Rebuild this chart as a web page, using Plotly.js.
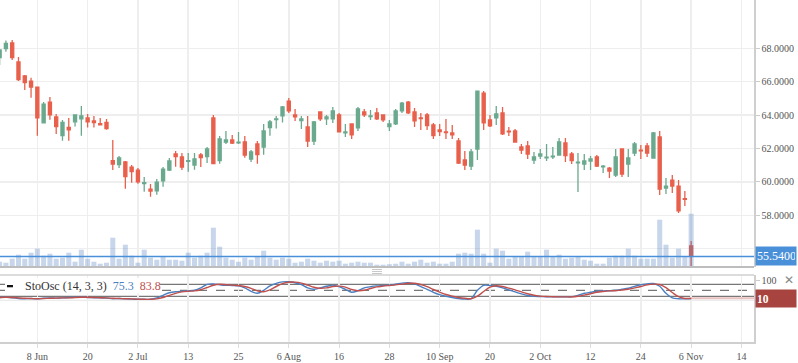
<!DOCTYPE html>
<html>
<head>
<meta charset="utf-8">
<script src="https://cdn.plot.ly/plotly-3.0.1.min.js"></script>
<style>html,body{margin:0;padding:0;background:#fff;}#chart{width:798px;height:363px;}</style>
</head>
<body>
<div id="chart"></div>
<script>
// ---- data (trading-day index based) ----
const open  = [67.44,67.98,68.32,67.18,66.34,66.04,65.68,63.54,64.78,63.89,62.77,63.27,63.60,63.78,63.83,63.65,63.49,63.57,61.27,61.03,61.19,60.89,60.71,59.90,59.57,59.47,60.07,60.71,61.67,61.49,61.23,61.01,61.61,61.51,63.83,61.27,62.39,62.51,62.34,62.39,61.37,62.27,62.09,63.25,63.73,63.96,64.84,64.01,63.67,63.29,62.45,64.19,63.78,63.78,64.01,62.93,63.47,63.23,64.19,63.91,64.13,64.01,63.31,63.47,64.25,64.78,64.19,63.83,64.01,63.41,63.11,62.99,62.93,62.45,61.31,60.95,61.97,65.32,63.71,63.83,64.13,63.04,63.05,62.09,62.15,61.31,61.55,61.44,61.50,61.61,62.33,61.67,61.14,61.07,61.25,61.49,60.90,60.83,60.41,61.97,61.07,61.73,61.90,62.15,61.43,62.69,59.63,60.11,59.75,58.99,56.16];
const high  = [67.95,68.46,68.50,67.48,66.40,66.24,65.70,64.78,65.08,64.07,63.71,63.83,64.05,64.54,64.07,63.95,63.83,63.77,62.51,61.55,61.25,61.01,60.83,60.29,59.87,60.17,60.89,61.43,61.85,61.73,61.73,61.73,61.73,62.09,64.01,62.75,63.05,62.81,62.99,62.75,61.91,62.45,63.47,63.71,63.95,64.55,65.02,64.37,63.95,63.95,63.65,64.21,64.01,64.49,64.13,63.47,63.49,64.49,64.37,64.31,64.43,64.03,63.71,64.37,64.78,64.84,64.43,64.13,64.13,63.53,63.47,63.77,63.41,62.63,61.85,61.97,65.46,65.44,64.01,64.55,64.49,63.29,63.17,62.27,62.45,61.79,61.97,62.27,62.09,62.63,62.63,61.79,61.73,61.67,61.55,61.61,61.01,60.89,61.97,61.99,61.97,62.39,62.21,62.33,62.99,63.05,60.23,60.41,60.11,59.45,56.46];
const low   = [67.00,67.80,67.30,66.04,65.50,65.04,62.77,63.50,63.72,62.87,62.47,62.47,63.31,62.77,63.25,63.25,63.37,63.13,60.71,60.83,59.59,59.95,59.89,59.41,59.11,59.23,59.71,60.65,60.91,60.71,60.61,60.73,60.89,61.13,61.07,61.09,62.27,62.27,62.27,61.45,61.19,61.09,61.63,62.77,63.19,63.55,64.13,63.65,63.17,62.09,62.21,63.65,63.41,63.53,62.97,62.69,62.57,63.05,63.89,63.71,63.71,63.59,63.05,63.41,64.13,64.07,63.29,63.11,63.11,62.57,62.75,62.57,62.57,61.07,60.71,60.71,61.31,63.11,63.29,63.41,62.81,62.75,62.37,61.67,61.37,61.07,61.37,61.25,61.37,61.59,61.19,61.07,59.40,60.71,60.71,60.89,60.53,60.23,60.29,60.29,60.29,61.55,61.37,61.49,61.41,59.21,59.28,59.34,58.14,58.56,54.80];
const close = [67.90,68.30,67.44,66.12,65.94,65.68,63.84,64.66,64.02,63.31,63.57,63.11,64.01,63.95,63.59,63.55,63.41,63.19,61.07,61.43,60.31,60.61,60.01,59.95,59.45,59.99,60.77,61.25,61.51,60.89,61.27,61.37,61.45,61.97,61.09,62.57,62.51,62.33,62.38,61.61,61.79,61.63,63.05,63.59,63.77,64.49,64.25,63.90,63.77,62.45,63.59,63.77,63.89,64.25,62.99,62.99,62.81,64.37,64.01,63.95,63.77,63.71,63.47,64.25,64.72,64.13,63.65,63.79,63.37,62.77,63.01,62.95,62.81,61.13,61.01,61.79,65.44,63.53,63.35,64.07,62.87,63.00,62.39,61.91,61.67,61.49,61.67,61.48,61.54,62.39,61.57,61.27,61.18,61.25,61.37,60.95,60.94,60.65,61.49,60.47,61.43,62.27,61.86,61.73,62.93,59.57,59.75,59.75,58.26,58.95,55.54];
const volume = [530,430,830,1230,830,1430,1830,1130,1330,830,930,1430,530,1730,830,530,330,430,2930,830,2230,1130,430,1730,930,730,1030,730,730,630,1430,930,1130,1430,3930,2030,930,730,530,930,730,1030,1630,930,730,930,830,430,530,830,630,430,630,530,630,330,430,530,430,430,230,230,280,330,530,330,530,730,430,530,330,330,530,1330,1430,1330,3730,1330,430,1830,1630,830,1030,1030,1530,1030,1030,1730,1030,1230,830,930,1030,730,630,330,330,930,1130,1130,1830,1130,830,830,830,4730,2230,930,1830,1030,5330];
const stochK = [14,16,12,9,8,9,7,10,12,11,12,14,15,16,14,13,12,11,8,9,7,6,5,5,5,12,25,38,43,45,47,50,62,80,82,78,75,74,72,62,45,35,50,72,85,92,93,88,78,62,55,62,70,76,68,55,40,48,62,68,72,74,76,80,86,88,82,68,55,40,28,20,14,9,6,8,50,75,74,70,62,52,42,32,24,20,19,18,17,17,17,18,25,35,40,45,47,48,50,55,60,70,78,82,84,70,35,12,8,7,8];
const stochD = [14,15,14,12,10,9,8,9,10,11,12,12,14,15,15,14,13,12,10,9,8,7,6,5,5,7,14,25,35,42,45,47,53,64,75,80,78,76,74,69,60,47,43,52,69,83,90,91,86,76,65,60,62,69,71,66,54,48,50,59,67,71,74,77,81,85,85,79,68,54,41,29,21,14,10,8,21,44,66,73,69,61,52,42,33,25,21,19,18,17,17,17,20,26,33,40,44,47,48,51,55,62,69,77,81,79,63,39,18,9,10];
const tickIndex = [6,14,22,30,38,46,54,62,70,78,86,94,102,110,118];
const tickLabels = ['8 Jun','20','2 Jul','13','25','6 Aug','16','28','10 Sep','20','2 Oct','12','24','6 Nov','14'];
const priceTicks = [56,58,60,62,64,66,68];
const priceTickText = ['', '58.0000', '60.0000', '62.0000', '64.0000', '66.0000', '68.0000'];
const stochLevels = [80,50,20];
const legendK = '75.3', legendD = '83.8';

const idx = close.map((_, i) => i);
const n = close.length;
const lastClose = close[n - 1];
const lastD = stochD[n - 1];

const UP = '#6aa98e', DOWN = '#e8604c';
const BLUE = '#4a90d9';
const KCOL = '#4a7fc1', DCOL = '#c0504d';
const FONT = 'Liberation Serif, Times New Roman, serif';
const XR = [0.06, 120.0];

const traces = [
  {
    type: 'candlestick', x: idx, open: open, high: high, low: low, close: close,
    xaxis: 'x', yaxis: 'y',
    increasing: {line: {color: UP, width: 1.3}, fillcolor: UP},
    decreasing: {line: {color: DOWN, width: 1.3}, fillcolor: DOWN},
    whiskerwidth: 0, hoverinfo: 'skip', showlegend: false
  },
  {
    type: 'bar', x: idx, y: volume, xaxis: 'x', yaxis: 'y3',
    marker: {color: 'rgba(70,120,190,0.3)', line: {width: 0}},
    hoverinfo: 'skip', showlegend: false
  },
  {
    type: 'scatter', mode: 'lines', x: idx, y: stochK, xaxis: 'x', yaxis: 'y2',
    line: {color: KCOL, width: 1.4, shape: 'spline', smoothing: 0.8},
    hoverinfo: 'skip', showlegend: false
  },
  {
    type: 'scatter', mode: 'lines', x: idx, y: stochD, xaxis: 'x', yaxis: 'y2',
    line: {color: DCOL, width: 1.4, shape: 'spline', smoothing: 0.8},
    hoverinfo: 'skip', showlegend: false
  }
];

const shapes = [];
stochLevels.forEach(v => {
  shapes.push({type: 'line', xref: 'paper', yref: 'y2', x0: 0, x1: 1, y0: v, y1: v,
    line: {color: '#555', width: 1, dash: v === 50 ? 'dash' : 'solid'}, layer: 'below'});
});
shapes.push({type: 'line', xref: 'paper', yref: 'y2', x0: 0, x1: 1, y0: 0, y1: 0,
  line: {color: '#e6e6e6', width: 1}, layer: 'below'});
// legend backdrop
shapes.push({type: 'rect', xref: 'paper', yref: 'paper', x0: 0.0066, x1: 0.2122, y0: 0.1418, y1: 0.1871,
  fillcolor: '#ffffff', line: {width: 0}, layer: 'above'});
// legend swatch
shapes.push({type: 'rect', xref: 'paper', yref: 'paper', x0: 0.0093, x1: 0.0172, y0: 0.1600, y1: 0.1667,
  fillcolor: '#111111', line: {width: 0}, layer: 'above'});
// last D extension
shapes.push({type: 'line', xref: 'x', yref: 'y2', x0: n - 1, x1: XR[1], y0: lastD, y1: lastD,
  line: {color: 'rgba(192,80,77,0.35)', width: 2}});
// panel separators
shapes.push({type: 'line', xref: 'paper', yref: 'paper', x0: 0, x1: 1, y0: 0.2193, y1: 0.2193,
  line: {color: '#bdbdbd', width: 2}});
shapes.push({type: 'line', xref: 'paper', yref: 'paper', x0: 0, x1: 1, y0: 0.1959, y1: 0.1959,
  line: {color: '#d0d0d0', width: 1.5}});
// splitter handle
[0.2120, 0.2062, 0.2003].forEach(yy => shapes.push({type: 'line', xref: 'paper', yref: 'paper',
  x0: 0.4934, x1: 0.5066, y0: yy, y1: yy, line: {color: '#c8c8c8', width: 1}}));
// last price line
shapes.push({type: 'line', xref: 'paper', yref: 'y', x0: 0, x1: 1, y0: lastClose, y1: lastClose,
  line: {color: BLUE, width: 1.5}});

const annotations = [
  {xref: 'paper', yref: 'paper', x: 0.0305, y: 0.1623, xanchor: 'left', yanchor: 'middle', showarrow: false,
   text: 'StoOsc (14, 3, 3)  <span style="color:' + KCOL + '">' + legendK + '</span>  <span style="color:' + DCOL + '">' + legendD + '</span>',
   font: {family: FONT, size: 12, color: '#333'}},
  {xref: 'paper', yref: 'y', x: 1, xshift: 1, y: lastClose, xanchor: 'left', yanchor: 'middle', showarrow: false,
   text: lastClose.toFixed(4), bgcolor: BLUE, width: 38, height: 16, align: 'left', borderpad: 1,
   font: {family: FONT, size: 12, color: '#fff'}},
  {xref: 'paper', yref: 'y2', x: 1, xshift: 1, y: lastD, xanchor: 'left', yanchor: 'middle', showarrow: false,
   text: '<b>' + Math.round(lastD) + '</b>', bgcolor: '#a8443f', width: 38, height: 15, align: 'left', borderpad: 1,
   font: {family: FONT, size: 11.5, color: '#fff'}},
  {xref: 'paper', yref: 'paper', x: 1, xshift: 35, y: 0.181, xanchor: 'center', yanchor: 'middle', showarrow: false,
   text: '✕', font: {family: 'DejaVu Sans', size: 12, color: '#888'}}
];

const layout = {
  width: 798, height: 363,
  margin: {l: 0, r: 44, t: 0, b: 21},
  paper_bgcolor: '#fff', plot_bgcolor: '#fff',
  showlegend: false,
  bargap: 0.2,
  font: {family: FONT, size: 10, color: '#555'},
  xaxis: {
    range: XR, anchor: 'y2', tickmode: 'array', tickvals: tickIndex, ticktext: tickLabels,
    showgrid: true, gridcolor: '#eeeeee', gridwidth: 1.5,
    ticks: 'outside', ticklen: 4, tickcolor: '#dddddd',
    showline: true, linecolor: '#cfcfcf', linewidth: 1.5,
    rangeslider: {visible: false}, zeroline: false, fixedrange: true,
    tickfont: {family: FONT, size: 10, color: '#555'}
  },
  yaxis: {
    domain: [0.2193, 1], range: [54.904, 70.892], side: 'right',
    tickmode: 'array', tickvals: priceTicks, ticktext: priceTickText,
    showgrid: true, gridcolor: '#eeeeee', gridwidth: 1.5,
    ticks: 'outside', ticklen: 4, tickcolor: '#cccccc',
    showline: true, linecolor: '#cfcfcf', linewidth: 1.5, zeroline: false,
    tickfont: {family: FONT, size: 10, color: '#555'}
  },
  yaxis3: {
    domain: [0.2193, 1], overlaying: 'y', range: [0, 26700], visible: false, fixedrange: true
  },
  yaxis2: {
    domain: [0, 0.1959], range: [-208.5, 126.5], side: 'right',
    tickmode: 'array', tickvals: [100], ticktext: ['100'],
    showgrid: false, zeroline: false,
    ticks: 'outside', ticklen: 4, tickcolor: '#cccccc',
    showline: true, linecolor: '#cfcfcf', linewidth: 1.5,
    tickfont: {family: FONT, size: 10, color: '#555'}
  },
  shapes: shapes,
  annotations: annotations
};

Plotly.newPlot('chart', traces, layout, {displayModeBar: false, staticPlot: true});
</script>
</body>
</html>
